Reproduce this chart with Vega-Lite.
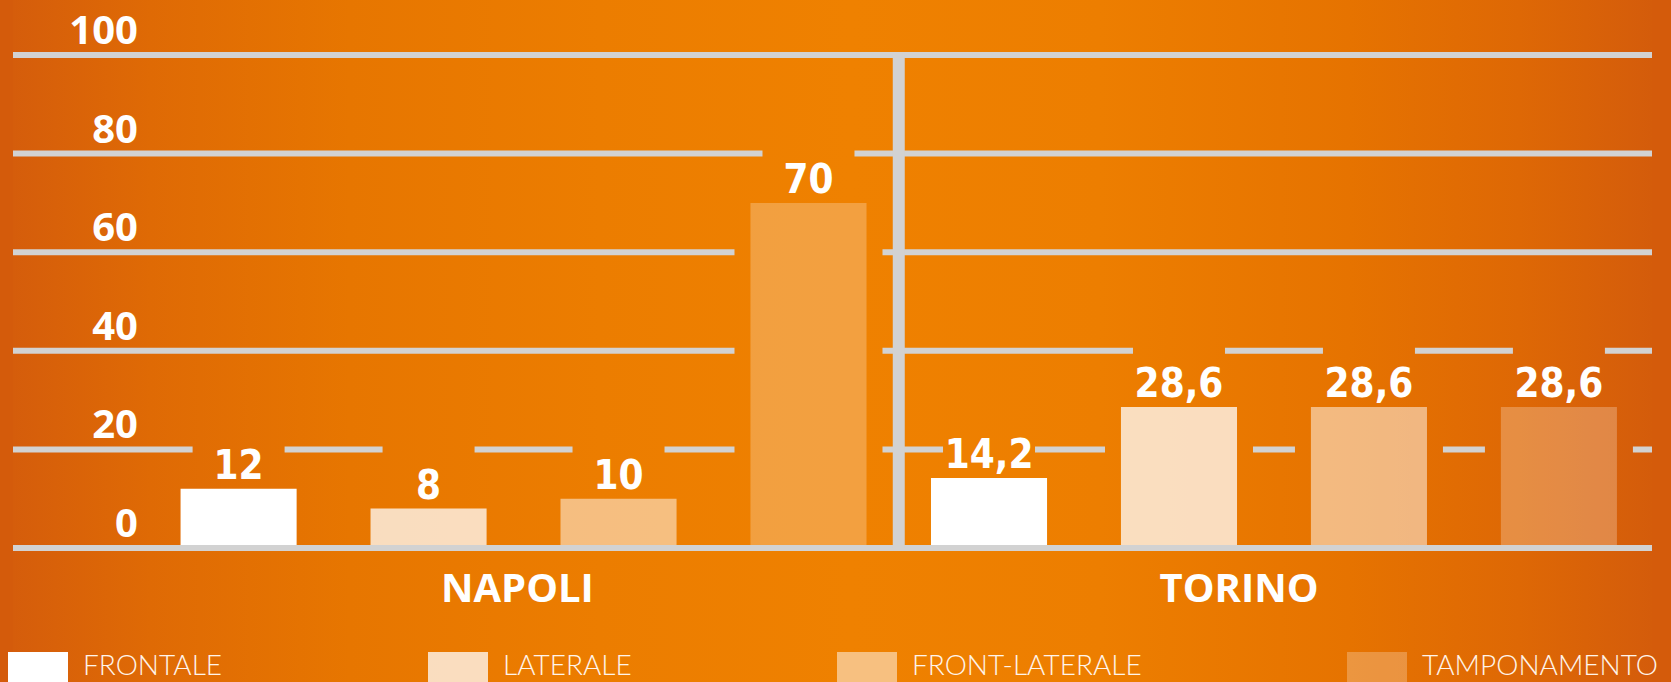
{
  "$schema": "https://vega.github.io/schema/vega-lite/v6.json",
  "width": 1639,
  "height": 682,
  "autosize": {"type": "none"},
  "padding": {"left": 13, "right": 19, "top": 0, "bottom": 0},
  "background": "#d45b0b",
  "config": {
    "view": {"stroke": null},
    "locale": {"number": {"decimal": ",", "thousands": ".", "grouping": [3], "currency": ["", " €"]}}
  },
  "data": {
    "values": [
      {"city": "NAPOLI", "tipo": "FRONTALE", "valore": 12},
      {"city": "NAPOLI", "tipo": "LATERALE", "valore": 8},
      {"city": "NAPOLI", "tipo": "FRONT-LATERALE", "valore": 10},
      {"city": "NAPOLI", "tipo": "TAMPONAMENTO", "valore": 70},
      {"city": "TORINO", "tipo": "FRONTALE", "valore": 14.2},
      {"city": "TORINO", "tipo": "LATERALE", "valore": 28.6},
      {"city": "TORINO", "tipo": "FRONT-LATERALE", "valore": 28.6},
      {"city": "TORINO", "tipo": "TAMPONAMENTO", "valore": 28.6}
    ]
  },
  "layer": [
    {
      "data": {"values": [{}]},
      "mark": {
        "type": "rect",
        "fill": {
          "gradient": "linear", "x1": 0, "y1": 0, "x2": 1, "y2": 0,
          "stops": [
            {"offset": 0, "color": "#d55d0b"},
            {"offset": 0.0836, "color": "#df6a05"},
            {"offset": 0.2056, "color": "#e77600"},
            {"offset": 0.358, "color": "#ec7d00"},
            {"offset": 0.5107, "color": "#ef8100"},
            {"offset": 0.663, "color": "#ed7e00"},
            {"offset": 0.8157, "color": "#e67300"},
            {"offset": 0.919, "color": "#de6805"},
            {"offset": 1, "color": "#d45c0b"}
          ]
        }
      },
      "encoding": {"x": {"value": 0}, "x2": {"value": "width"}, "y": {"value": 0}, "y2": {"value": "height"}}
    },
    {
      "data": {"values": [{"g": 20}, {"g": 40}, {"g": 60}, {"g": 80}]},
      "mark": {"type": "rule", "color": "#d2d2d2", "strokeWidth": 6},
      "encoding": {"y": {"field": "g", "type": "quantitative", "axis": null, "scale": {"domain": [-27.18, 111.16], "nice": false, "zero": false}}}
    },
    {
      "transform": [{"filter": "datum.city === 'NAPOLI' && datum.tipo === 'FRONTALE'"}],
      "mark": {"type": "point", "shape": "M-0.6216,-0.905H0.6216V0H1V9.5H-1V0H-0.6216Z", "size": 21904, "filled": true, "opacity": 1, "strokeWidth": 0,
        "fill": {"gradient": "linear", "x1": -1.0243, "y1": 0, "x2": 10.050, "y2": 0, "stops": [{"offset": 0, "color": "#d55d0b"}, {"offset": 0.0836, "color": "#df6a05"}, {"offset": 0.2056, "color": "#e77600"}, {"offset": 0.358, "color": "#ec7d00"}, {"offset": 0.5107, "color": "#ef8100"}, {"offset": 0.663, "color": "#ed7e00"}, {"offset": 0.8157, "color": "#e67300"}, {"offset": 0.919, "color": "#de6805"}, {"offset": 1, "color": "#d45c0b"}]}},
      "encoding": {
        "x": {"field": "city", "type": "nominal", "axis": null, "scale": {"domain": ["NAPOLI", "TORINO"], "paddingInner": 0.0859, "paddingOuter": 0.135, "align": 0.827}},
        "xOffset": {"field": "tipo", "type": "nominal", "scale": {"domain": ["FRONTALE", "LATERALE", "FRONT-LATERALE", "TAMPONAMENTO"], "paddingInner": 0.389, "paddingOuter": 0}},
        "y": {"field": "valore", "type": "quantitative", "axis": null, "scale": {"domain": [-27.18, 111.16], "nice": false, "zero": false}}
      }
    },
    {
      "transform": [{"filter": "datum.city === 'NAPOLI' && datum.tipo === 'LATERALE'"}],
      "mark": {"type": "point", "shape": "M-0.6216,-0.905H0.6216V0H1V9.5H-1V0H-0.6216Z", "size": 21904, "filled": true, "opacity": 1, "strokeWidth": 0,
        "fill": {"gradient": "linear", "x1": -2.3081, "y1": 0, "x2": 8.766, "y2": 0, "stops": [{"offset": 0, "color": "#d55d0b"}, {"offset": 0.0836, "color": "#df6a05"}, {"offset": 0.2056, "color": "#e77600"}, {"offset": 0.358, "color": "#ec7d00"}, {"offset": 0.5107, "color": "#ef8100"}, {"offset": 0.663, "color": "#ed7e00"}, {"offset": 0.8157, "color": "#e67300"}, {"offset": 0.919, "color": "#de6805"}, {"offset": 1, "color": "#d45c0b"}]}},
      "encoding": {
        "x": {"field": "city", "type": "nominal", "axis": null},
        "xOffset": {"field": "tipo", "type": "nominal"},
        "y": {"field": "valore", "type": "quantitative", "axis": null, "scale": {"domain": [-27.18, 111.16], "nice": false, "zero": false}}
      }
    },
    {
      "transform": [{"filter": "datum.city === 'NAPOLI' && datum.tipo === 'FRONT-LATERALE'"}],
      "mark": {"type": "point", "shape": "M-0.6216,-0.905H0.6216V0H1V9.5H-1V0H-0.6216Z", "size": 21904, "filled": true, "opacity": 1, "strokeWidth": 0,
        "fill": {"gradient": "linear", "x1": -3.5919, "y1": 0, "x2": 7.4824, "y2": 0, "stops": [{"offset": 0, "color": "#d55d0b"}, {"offset": 0.0836, "color": "#df6a05"}, {"offset": 0.2056, "color": "#e77600"}, {"offset": 0.358, "color": "#ec7d00"}, {"offset": 0.5107, "color": "#ef8100"}, {"offset": 0.663, "color": "#ed7e00"}, {"offset": 0.8157, "color": "#e67300"}, {"offset": 0.919, "color": "#de6805"}, {"offset": 1, "color": "#d45c0b"}]}},
      "encoding": {
        "x": {"field": "city", "type": "nominal", "axis": null},
        "xOffset": {"field": "tipo", "type": "nominal"},
        "y": {"field": "valore", "type": "quantitative", "axis": null, "scale": {"domain": [-27.18, 111.16], "nice": false, "zero": false}}
      }
    },
    {
      "transform": [{"filter": "datum.city === 'NAPOLI' && datum.tipo === 'TAMPONAMENTO'"}],
      "mark": {"type": "point", "shape": "M-0.6216,-0.905H0.6216V0H1V9.5H-1V0H-0.6216Z", "size": 21904, "filled": true, "opacity": 1, "strokeWidth": 0,
        "fill": {"gradient": "linear", "x1": -4.8757, "y1": 0, "x2": 6.1986, "y2": 0, "stops": [{"offset": 0, "color": "#d55d0b"}, {"offset": 0.0836, "color": "#df6a05"}, {"offset": 0.2056, "color": "#e77600"}, {"offset": 0.358, "color": "#ec7d00"}, {"offset": 0.5107, "color": "#ef8100"}, {"offset": 0.663, "color": "#ed7e00"}, {"offset": 0.8157, "color": "#e67300"}, {"offset": 0.919, "color": "#de6805"}, {"offset": 1, "color": "#d45c0b"}]}},
      "encoding": {
        "x": {"field": "city", "type": "nominal", "axis": null},
        "xOffset": {"field": "tipo", "type": "nominal"},
        "y": {"field": "valore", "type": "quantitative", "axis": null, "scale": {"domain": [-27.18, 111.16], "nice": false, "zero": false}}
      }
    },
    {
      "transform": [{"filter": "datum.city === 'TORINO' && datum.tipo === 'FRONTALE'"}],
      "mark": {"type": "point", "shape": "M-0.6216,-0.905H0.6216V0H1V9.5H-1V0H-0.6216Z", "size": 21904, "filled": true, "opacity": 1, "strokeWidth": 0,
        "fill": {"gradient": "linear", "x1": -6.0953, "y1": 0, "x2": 4.9791, "y2": 0, "stops": [{"offset": 0, "color": "#d55d0b"}, {"offset": 0.0836, "color": "#df6a05"}, {"offset": 0.2056, "color": "#e77600"}, {"offset": 0.358, "color": "#ec7d00"}, {"offset": 0.5107, "color": "#ef8100"}, {"offset": 0.663, "color": "#ed7e00"}, {"offset": 0.8157, "color": "#e67300"}, {"offset": 0.919, "color": "#de6805"}, {"offset": 1, "color": "#d45c0b"}]}},
      "encoding": {
        "x": {"field": "city", "type": "nominal", "axis": null},
        "xOffset": {"field": "tipo", "type": "nominal"},
        "y": {"field": "valore", "type": "quantitative", "axis": null, "scale": {"domain": [-27.18, 111.16], "nice": false, "zero": false}}
      }
    },
    {
      "transform": [{"filter": "datum.city === 'TORINO' && datum.tipo === 'LATERALE'"}],
      "mark": {"type": "point", "shape": "M-0.6216,-0.905H0.6216V0H1V9.5H-1V0H-0.6216Z", "size": 21904, "filled": true, "opacity": 1, "strokeWidth": 0,
        "fill": {"gradient": "linear", "x1": -7.3791, "y1": 0, "x2": 3.6953, "y2": 0, "stops": [{"offset": 0, "color": "#d55d0b"}, {"offset": 0.0836, "color": "#df6a05"}, {"offset": 0.2056, "color": "#e77600"}, {"offset": 0.358, "color": "#ec7d00"}, {"offset": 0.5107, "color": "#ef8100"}, {"offset": 0.663, "color": "#ed7e00"}, {"offset": 0.8157, "color": "#e67300"}, {"offset": 0.919, "color": "#de6805"}, {"offset": 1, "color": "#d45c0b"}]}},
      "encoding": {
        "x": {"field": "city", "type": "nominal", "axis": null},
        "xOffset": {"field": "tipo", "type": "nominal"},
        "y": {"field": "valore", "type": "quantitative", "axis": null, "scale": {"domain": [-27.18, 111.16], "nice": false, "zero": false}}
      }
    },
    {
      "transform": [{"filter": "datum.city === 'TORINO' && datum.tipo === 'FRONT-LATERALE'"}],
      "mark": {"type": "point", "shape": "M-0.6216,-0.905H0.6216V0H1V9.5H-1V0H-0.6216Z", "size": 21904, "filled": true, "opacity": 1, "strokeWidth": 0,
        "fill": {"gradient": "linear", "x1": -8.6628, "y1": 0, "x2": 2.4115, "y2": 0, "stops": [{"offset": 0, "color": "#d55d0b"}, {"offset": 0.0836, "color": "#df6a05"}, {"offset": 0.2056, "color": "#e77600"}, {"offset": 0.358, "color": "#ec7d00"}, {"offset": 0.5107, "color": "#ef8100"}, {"offset": 0.663, "color": "#ed7e00"}, {"offset": 0.8157, "color": "#e67300"}, {"offset": 0.919, "color": "#de6805"}, {"offset": 1, "color": "#d45c0b"}]}},
      "encoding": {
        "x": {"field": "city", "type": "nominal", "axis": null},
        "xOffset": {"field": "tipo", "type": "nominal"},
        "y": {"field": "valore", "type": "quantitative", "axis": null, "scale": {"domain": [-27.18, 111.16], "nice": false, "zero": false}}
      }
    },
    {
      "transform": [{"filter": "datum.city === 'TORINO' && datum.tipo === 'TAMPONAMENTO'"}],
      "mark": {"type": "point", "shape": "M-0.6216,-0.905H0.6216V0H1V9.5H-1V0H-0.6216Z", "size": 21904, "filled": true, "opacity": 1, "strokeWidth": 0,
        "fill": {"gradient": "linear", "x1": -9.9466, "y1": 0, "x2": 1.1277, "y2": 0, "stops": [{"offset": 0, "color": "#d55d0b"}, {"offset": 0.0836, "color": "#df6a05"}, {"offset": 0.2056, "color": "#e77600"}, {"offset": 0.358, "color": "#ec7d00"}, {"offset": 0.5107, "color": "#ef8100"}, {"offset": 0.663, "color": "#ed7e00"}, {"offset": 0.8157, "color": "#e67300"}, {"offset": 0.919, "color": "#de6805"}, {"offset": 1, "color": "#d45c0b"}]}},
      "encoding": {
        "x": {"field": "city", "type": "nominal", "axis": null},
        "xOffset": {"field": "tipo", "type": "nominal"},
        "y": {"field": "valore", "type": "quantitative", "axis": null, "scale": {"domain": [-27.18, 111.16], "nice": false, "zero": false}}
      }
    },
    {
      "mark": {"type": "bar", "color": "#ffffff"},
      "encoding": {
        "x": {"field": "city", "type": "nominal", "axis": null},
        "xOffset": {"field": "tipo", "type": "nominal"},
        "y": {"field": "valore", "type": "quantitative", "axis": null, "scale": {"domain": [-27.18, 111.16], "nice": false, "zero": false}},
        "opacity": {
          "field": "tipo", "type": "nominal",
          "scale": {"type": "ordinal", "domain": ["FRONTALE", "LATERALE", "FRONT-LATERALE", "TAMPONAMENTO"], "range": [1, 0.75, 0.5, 0.25]},
          "legend": {
            "title": null, "orient": "none", "legendX": -5, "legendY": 637, "direction": "horizontal",
            "columnPadding": 205, "labelOffset": 15, "labelLimit": 400,
            "labelFont": "Lato", "labelFontWeight": 300, "labelFontSize": 28, "labelColor": "#fff4ea",
            "symbolType": "M-1,-0.5H1V1.5H-1Z", "symbolSize": 3600,
            "symbolFillColor": "#ffffff", "symbolStrokeWidth": 0, "padding": 0, "rowPadding": 0
          }
        }
      }
    },
    {
      "data": {"values": [{"g": 0}, {"g": 100}]},
      "mark": {"type": "rule", "color": "#d2d2d2", "strokeWidth": 6},
      "encoding": {"y": {"field": "g", "type": "quantitative", "axis": null, "scale": {"domain": [-27.18, 111.16], "nice": false, "zero": false}}}
    },
    {
      "data": {"values": [{}]},
      "mark": {"type": "rule", "color": "#d2d2d2", "strokeWidth": 12},
      "encoding": {
        "x": {"datum": "NAPOLI", "type": "nominal", "bandPosition": 1.047, "axis": null},
        "y": {"datum": 100, "type": "quantitative", "axis": null, "scale": {"domain": [-27.18, 111.16], "nice": false, "zero": false}},
        "y2": {"datum": 0}
      }
    },
    {
      "data": {"values": [{"g": 0}, {"g": 20}, {"g": 40}, {"g": 60}, {"g": 80}, {"g": 100}]},
      "mark": {"type": "text", "align": "right", "baseline": "alphabetic", "dy": -11, "font": "Open Sans", "fontWeight": "bold", "fontSize": 40, "color": "#ffffff"},
      "encoding": {
        "x": {"datum": "NAPOLI", "type": "nominal", "bandPosition": -0.0621, "axis": null},
        "y": {"field": "g", "type": "quantitative", "axis": null, "scale": {"domain": [-27.18, 111.16], "nice": false, "zero": false}},
        "text": {"field": "g", "type": "quantitative"}
      }
    },
    {
      "mark": {"type": "text", "baseline": "alphabetic", "dy": -10, "font": "Liberation Sans Narrow, DejaVu Sans Condensed, sans-serif", "fontWeight": "bold", "fontSize": 40, "color": "#ffffff"},
      "encoding": {
        "x": {"field": "city", "type": "nominal", "axis": null},
        "xOffset": {"field": "tipo", "type": "nominal"},
        "y": {"field": "valore", "type": "quantitative", "axis": null, "scale": {"domain": [-27.18, 111.16], "nice": false, "zero": false}},
        "text": {"field": "valore", "type": "quantitative", "format": "~g"}
      }
    },
    {
      "data": {"values": [{"city": "NAPOLI"}]},
      "mark": {"type": "text", "baseline": "alphabetic", "font": "Open Sans", "fontWeight": "bold", "fontSize": 40, "color": "#ffffff"},
      "encoding": {
        "x": {"field": "city", "type": "nominal", "bandPosition": 0.491, "axis": null},
        "y": {"datum": -11, "type": "quantitative", "axis": null, "scale": {"domain": [-27.18, 111.16], "nice": false, "zero": false}},
        "text": {"field": "city"}
      }
    },
    {
      "data": {"values": [{"city": "TORINO"}]},
      "mark": {"type": "text", "baseline": "alphabetic", "font": "Open Sans", "fontWeight": "bold", "fontSize": 40, "color": "#ffffff"},
      "encoding": {
        "x": {"field": "city", "type": "nominal", "bandPosition": 0.449, "axis": null},
        "y": {"datum": -11, "type": "quantitative", "axis": null, "scale": {"domain": [-27.18, 111.16], "nice": false, "zero": false}},
        "text": {"field": "city"}
      }
    }
  ]
}
